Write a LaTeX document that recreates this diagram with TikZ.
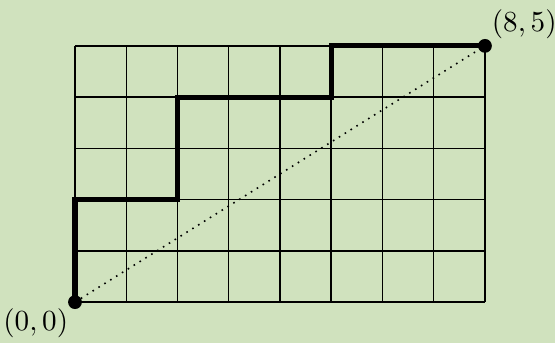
\documentclass[tikz,border=0pt]{standalone}
\begin{document}
\begin{tikzpicture}[x=19.27pt,y=19.27pt,
  gridline/.style={line width=0.55pt,black},
  pathline/.style={line width=1.9pt,black},
  enddot/.style={circle,fill=black,inner sep=0pt,minimum size=5.2pt},
  lbl/.style={font=\fontsize{10.5}{13}\selectfont,inner sep=2.4pt}]
\definecolor{bgc}{RGB}{208,226,190}
\fill[bgc] (-28.2pt,-15.4pt) rectangle (180.5pt,113.6pt);
\useasboundingbox (-28.2pt,-15.4pt) rectangle (180.5pt,113.6pt);
\foreach \i in {0,...,8} \draw[gridline] (\i,0) -- (\i,5);
\foreach \j in {0,...,5} \draw[gridline] (0,\j) -- (8,\j);
\node[enddot] (s) at (0,0) {};
\node[enddot] (e) at (8,5) {};
\draw[dotted,semithick] (s.center) -- (e.center);
\draw[pathline,line join=miter] (s.center) -- (0,2) -- (2,2) -- (2,4) -- (5,4) -- (5,5) -- (e.center);
\node[lbl,anchor=north east] (ls) at (0,0) {$(0,0)$};
\node[lbl,anchor=south west] (le) at (8,5) {$(8,5)$};
\end{tikzpicture}
\end{document}
